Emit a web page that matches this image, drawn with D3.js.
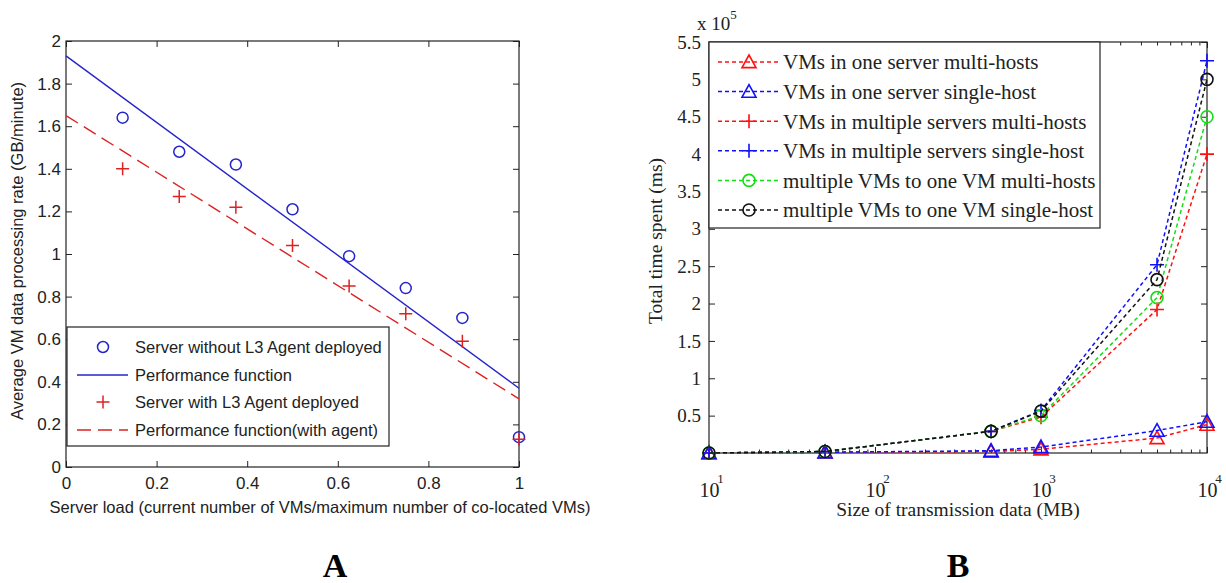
<!DOCTYPE html>
<html>
<head>
<meta charset="utf-8">
<script src="https://cdn.jsdelivr.net/npm/d3@7"></script>
<style>
  body { margin: 0; background: #fff; }
  svg { display: block; }
</style>
</head>
<body>
<svg id="chart"></svg>
<script>
// ---- panel A data ----
let loadX = [0.125, 0.25, 0.375, 0.5, 0.625, 0.75, 0.875, 1];
let rateNoAgent = [1.64, 1.48, 1.42, 1.21, 0.99, 0.84, 0.70, 0.14];
let rateAgent = [1.40, 1.27, 1.22, 1.04, 0.85, 0.72, 0.59, 0.13];
let fitX = [0, 1];
let fitNoAgent = [1.93, 0.37];
let fitAgent = [1.65, 0.32];
let ticksAX = [0, 0.2, 0.4, 0.6, 0.8, 1];
let ticksAY = [0, 0.2, 0.4, 0.6, 0.8, 1, 1.2, 1.4, 1.6, 1.8, 2];
let legendA = ['Server without L3 Agent deployed', 'Performance function',
               'Server with L3 Agent deployed', 'Performance function(with agent)'];

// ---- panel B data (x 10^5 ms) ----
let sizes = [10, 50, 500, 1000, 5000, 10000];
let oneServerMulti = [0, 0.01, 0.02, 0.05, 0.20, 0.38];
let oneServerSingle = [0, 0.01, 0.03, 0.08, 0.30, 0.42];
let multiServerMulti = [0, 0.02, 0.29, 0.48, 1.92, 4.00];
let multiServerSingle = [0, 0.02, 0.29, 0.57, 2.52, 5.25];
let manyToOneMulti = [0, 0.02, 0.29, 0.50, 2.08, 4.50];
let manyToOneSingle = [0, 0.02, 0.29, 0.56, 2.32, 5.00];
let seriesNames = ['VMs in one server multi-hosts', 'VMs in one server single-host',
                   'VMs in multiple servers multi-hosts', 'VMs in multiple servers single-host',
                   'multiple VMs to one VM multi-hosts', 'multiple VMs to one VM single-host'];
let ticksBX = [10, 100, 1000, 10000];
let ticksBY = [0.5, 1, 1.5, 2, 2.5, 3, 3.5, 4, 4.5, 5, 5.5];

let width = 1226;
let height = 583;
let svg = d3.select('#chart').attr('width', width).attr('height', height);

let sans = '"Liberation Sans", Arial, sans-serif';
let serif = '"Liberation Serif", "Times New Roman", serif';

let blueA = '#2424cc';
let redA = '#dd2222';

// marker path helpers
let plusPath = (x, y, s) => `M${x - s},${y}H${x + s}M${x},${y - s}V${y + s}`;
let triPath = (x, y, s) => `M${x},${y - s}L${x + s},${y + s * 0.8}L${x - s},${y + s * 0.8}Z`;

let styleAxis = (g, font, size) => {
    g.select('.domain').remove();
    g.selectAll('line').attr('stroke', '#222');
    g.selectAll('text').filter(function() { return this.textContent === ''; }).remove();
    g.selectAll('text').attr('font-family', font).attr('font-size', size).attr('fill', '#222');
};

// ================= panel A =================
let xA = d3.scaleLinear().domain([0, 1]).range([66, 519]);
let yA = d3.scaleLinear().domain([0, 2]).range([467, 41]);

let gA = svg.append('g');

gA.append('rect')
    .attr('x', 66).attr('y', 41)
    .attr('width', 453).attr('height', 426)
    .attr('fill', 'none').attr('stroke', '#222').attr('stroke-width', 1.2);

gA.append('g').attr('transform', 'translate(0,467)')
    .call(d3.axisBottom(xA).tickValues(ticksAX).tickSizeInner(-6).tickSizeOuter(0)
        .tickPadding(10).tickFormat(d3.format('~g')))
    .call(g => styleAxis(g, sans, 17));
gA.append('g').attr('transform', 'translate(0,41)')
    .call(d3.axisTop(xA).tickValues(ticksAX).tickSizeInner(-6).tickSizeOuter(0).tickFormat(''))
    .call(g => styleAxis(g, sans, 17));
gA.append('g').attr('transform', 'translate(66,0)')
    .call(d3.axisLeft(yA).tickValues(ticksAY).tickSizeInner(-6).tickSizeOuter(0)
        .tickPadding(5).tickFormat(d3.format('~g')))
    .call(g => styleAxis(g, sans, 17));
gA.append('g').attr('transform', 'translate(519,0)')
    .call(d3.axisRight(yA).tickValues(ticksAY).tickSizeInner(-6).tickSizeOuter(0).tickFormat(''))
    .call(g => styleAxis(g, sans, 17));

// fit lines
let lineA = d3.line().x(d => xA(d[0])).y(d => yA(d[1]));
gA.append('path')
    .attr('d', lineA(fitX.map((x, i) => [x, fitNoAgent[i]])))
    .attr('stroke', blueA).attr('stroke-width', 1.4).attr('fill', 'none');
gA.append('path')
    .attr('d', lineA(fitX.map((x, i) => [x, fitAgent[i]])))
    .attr('stroke', redA).attr('stroke-width', 1.4).attr('fill', 'none')
    .attr('stroke-dasharray', '14,7');

// points
gA.selectAll('.circ').data(loadX).enter().append('circle')
    .attr('cx', d => xA(d))
    .attr('cy', (d, i) => yA(rateNoAgent[i]))
    .attr('r', 5.5)
    .attr('fill', 'none').attr('stroke', blueA).attr('stroke-width', 1.5);
gA.selectAll('.plus').data(loadX).enter().append('path')
    .attr('d', (d, i) => plusPath(xA(d), yA(rateAgent[i]), 6.5))
    .attr('stroke', redA).attr('stroke-width', 1.5).attr('fill', 'none');

// legend A
let legA = gA.append('g');
legA.append('rect')
    .attr('x', 67).attr('y', 327).attr('width', 322).attr('height', 119)
    .attr('fill', '#fff').attr('stroke', '#222').attr('stroke-width', 1.2);
let legAY = [347, 375, 402, 430];
legendA.forEach((name, i) => {
    let y = legAY[i];
    if (i === 0) {
        legA.append('circle').attr('cx', 103).attr('cy', y).attr('r', 5.5)
            .attr('fill', 'none').attr('stroke', blueA).attr('stroke-width', 1.5);
    } else if (i === 1) {
        legA.append('line').attr('x1', 77).attr('x2', 128).attr('y1', y).attr('y2', y)
            .attr('stroke', blueA).attr('stroke-width', 1.4);
    } else if (i === 2) {
        legA.append('path').attr('d', plusPath(103, y, 6.5))
            .attr('stroke', redA).attr('stroke-width', 1.5);
    } else {
        legA.append('line').attr('x1', 77).attr('x2', 128).attr('y1', y).attr('y2', y)
            .attr('stroke', redA).attr('stroke-width', 1.4).attr('stroke-dasharray', '14,7');
    }
    legA.append('text').attr('x', 135).attr('y', y).attr('dy', '0.35em')
        .attr('font-family', sans).attr('font-size', 16.5).attr('fill', '#222')
        .text(name);
});

// axis titles A
gA.append('text')
    .attr('transform', 'translate(17,251) rotate(-90)')
    .attr('text-anchor', 'middle').attr('dy', '0.35em')
    .attr('font-family', sans).attr('font-size', 16.5).attr('fill', '#222')
    .text('Average VM data processing rate (GB/minute)');
gA.append('text')
    .attr('x', 320).attr('y', 513).attr('text-anchor', 'middle')
    .attr('font-family', sans).attr('font-size', 16.5).attr('fill', '#222')
    .text('Server load (current number of VMs/maximum number of co-located VMs)');

// ================= panel B =================
let xB = d3.scaleLog().domain([10, 10000]).range([709, 1207]);
let yB = d3.scaleLinear().domain([0, 5.5]).range([453, 42]);

let gB = svg.append('g');
gB.append('rect')
    .attr('x', 709).attr('y', 42)
    .attr('width', 498).attr('height', 411)
    .attr('fill', 'none').attr('stroke', '#222').attr('stroke-width', 1.2);

let minorB = xB.ticks().filter(d => ticksBX.indexOf(d) < 0);

gB.append('g').attr('transform', 'translate(0,453)')
    .call(d3.axisBottom(xB).tickValues(minorB).tickSizeInner(-3.5).tickSizeOuter(0).tickFormat(''))
    .call(g => styleAxis(g, serif, 19));
gB.append('g').attr('transform', 'translate(0,42)')
    .call(d3.axisTop(xB).tickValues(minorB).tickSizeInner(-3.5).tickSizeOuter(0).tickFormat(''))
    .call(g => styleAxis(g, serif, 19));
gB.append('g').attr('transform', 'translate(0,42)')
    .call(d3.axisTop(xB).tickValues(ticksBX).tickSizeInner(-6).tickSizeOuter(0).tickFormat(''))
    .call(g => styleAxis(g, serif, 19));

let xAxisB = gB.append('g').attr('transform', 'translate(0,453)')
    .call(d3.axisBottom(xB).tickValues(ticksBX).tickSizeInner(-6).tickSizeOuter(0).tickFormat(''))
    .call(g => styleAxis(g, serif, 19));
xAxisB.selectAll('.tick').each(function(d) {
    let t = d3.select(this);
    t.append('text').attr('x', 0).attr('y', 44).attr('text-anchor', 'middle')
        .attr('font-family', serif).attr('font-size', 20).attr('fill', '#222').text('10');
    t.append('text').attr('x', 11).attr('y', 30)
        .attr('font-family', serif).attr('font-size', 13).attr('fill', '#222')
        .text(Math.round(Math.log10(d)));
});

gB.append('g').attr('transform', 'translate(709,0)')
    .call(d3.axisLeft(yB).tickValues(ticksBY).tickSizeInner(-6).tickSizeOuter(0)
        .tickPadding(8).tickFormat(d3.format('~g')))
    .call(g => styleAxis(g, serif, 19));
gB.append('g').attr('transform', 'translate(1207,0)')
    .call(d3.axisRight(yB).tickValues(ticksBY).tickSizeInner(-6).tickSizeOuter(0).tickFormat(''))
    .call(g => styleAxis(g, serif, 19));

// exponent label
let expo = gB.append('text').attr('x', 697).attr('y', 30)
    .attr('font-family', serif).attr('font-size', 19).attr('fill', '#222');
expo.append('tspan').text('x 10');
expo.append('tspan').attr('dy', -11).attr('font-size', 13).text('5');

// series
let series = [
    { name: seriesNames[0], vals: oneServerMulti, color: '#ff1010', mark: 'tri' },
    { name: seriesNames[1], vals: oneServerSingle, color: '#1010ff', mark: 'tri' },
    { name: seriesNames[2], vals: multiServerMulti, color: '#ff1010', mark: 'plus' },
    { name: seriesNames[3], vals: multiServerSingle, color: '#1010ff', mark: 'plus' },
    { name: seriesNames[4], vals: manyToOneMulti, color: '#10e010', mark: 'circ' },
    { name: seriesNames[5], vals: manyToOneSingle, color: '#111111', mark: 'circ' }
];

let drawMark = (g, s, x, y) => {
    if (s.mark === 'tri') {
        g.append('path').attr('d', triPath(x, y, 7))
            .attr('fill', 'none').attr('stroke', s.color).attr('stroke-width', 1.6);
    } else if (s.mark === 'plus') {
        g.append('path').attr('d', plusPath(x, y, 7))
            .attr('fill', 'none').attr('stroke', s.color).attr('stroke-width', 1.6);
    } else {
        g.append('circle').attr('cx', x).attr('cy', y).attr('r', 6)
            .attr('fill', 'none').attr('stroke', s.color).attr('stroke-width', 1.6);
    }
};

let lineB = d3.line().x(d => xB(d[0])).y(d => yB(d[1]));
series.forEach(s => {
    let pts = sizes.map((x, i) => [x, s.vals[i]]);
    gB.append('path').attr('d', lineB(pts))
        .attr('fill', 'none').attr('stroke', s.color).attr('stroke-width', 1.5)
        .attr('stroke-dasharray', '4,3');
    pts.forEach(p => drawMark(gB, s, xB(p[0]), yB(p[1])));
});

// legend B
let legB = gB.append('g');
legB.append('rect')
    .attr('x', 709).attr('y', 42).attr('width', 391).attr('height', 186)
    .attr('fill', '#fff').attr('stroke', '#222').attr('stroke-width', 1.2);
series.forEach((s, i) => {
    let y = 62 + i * 29.6;
    legB.append('line').attr('x1', 718).attr('x2', 779).attr('y1', y).attr('y2', y)
        .attr('stroke', s.color).attr('stroke-width', 1.5).attr('stroke-dasharray', '4,3');
    drawMark(legB, s, 749, y);
    legB.append('text').attr('x', 783).attr('y', y).attr('dy', '0.35em')
        .attr('font-family', serif).attr('font-size', 21).attr('fill', '#222')
        .text(s.name);
});

// axis titles B
gB.append('text')
    .attr('transform', 'translate(655,241) rotate(-90)')
    .attr('text-anchor', 'middle').attr('dy', '0.35em')
    .attr('font-family', serif).attr('font-size', 19.5).attr('fill', '#222')
    .text('Total time spent (ms)');
gB.append('text')
    .attr('x', 958).attr('y', 516).attr('text-anchor', 'middle')
    .attr('font-family', serif).attr('font-size', 19.5).attr('fill', '#222')
    .text('Size of transmission data (MB)');

// panel letters
svg.append('text').attr('x', 335).attr('y', 577).attr('text-anchor', 'middle')
    .attr('font-family', serif).attr('font-weight', 'bold').attr('font-size', 34)
    .text('A');
svg.append('text').attr('x', 958).attr('y', 577).attr('text-anchor', 'middle')
    .attr('font-family', serif).attr('font-weight', 'bold').attr('font-size', 34)
    .text('B');
</script>
</body>
</html>
